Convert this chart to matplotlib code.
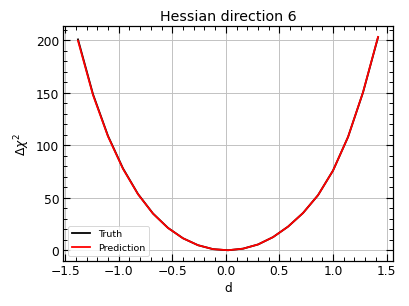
import matplotlib
matplotlib.use("Agg")
import matplotlib.pyplot as plt
from matplotlib.ticker import MultipleLocator

# step along hessian direction
d = [-1.38, -1.24, -1.10, -0.96, -0.82, -0.68, -0.54, -0.40, -0.26, -0.12, 0.02,
     0.16, 0.30, 0.44, 0.58, 0.72, 0.86, 1.00, 1.14, 1.28, 1.42]
chi2_truth = [201.0, 148.8, 109.0, 78.0, 53.6, 35.0, 21.3, 11.4, 4.8, 1.05, 0.0,
              1.5, 5.5, 12.5, 22.5, 35.5, 52.5, 76.0, 108.0, 150.5, 203.0]
chi2_pred = [199.8, 148.0, 108.5, 77.6, 53.4, 34.9, 21.2, 11.4, 4.8, 1.05, 0.0,
             1.5, 5.5, 12.5, 22.5, 35.5, 52.5, 76.0, 108.0, 150.8, 203.4]

fig = plt.figure(figsize=(6, 4.5), dpi=409 / 6)
ax = fig.add_subplot(111)
fig.subplots_adjust(left=0.154, right=0.961, top=0.912, bottom=0.147)

ax.plot(d, chi2_truth, color='black', lw=1.9, label='Truth')
ax.plot(d, chi2_pred, color='red', lw=1.9, label='Prediction')

ax.set_title('Hessian direction 6', fontsize=15)
ax.set_xlabel('d', fontsize=13)
ax.set_ylabel(r'$\Delta\chi^2$', fontsize=13)

ax.xaxis.set_major_locator(MultipleLocator(0.5))
ax.xaxis.set_minor_locator(MultipleLocator(0.1))
ax.yaxis.set_major_locator(MultipleLocator(50))
ax.yaxis.set_minor_locator(MultipleLocator(10))
ax.tick_params(which='both', direction='in', top=True, right=True, labelsize=13)
ax.tick_params(which='major', length=7, width=1.2, pad=4)
ax.tick_params(which='minor', length=4, width=1)
for s in ax.spines.values():
    s.set_linewidth(1.3)
ax.grid(True, which='major', color='#c0c0c0', lw=1)

ax.legend(loc='lower left', fontsize=10)

plt.savefig('out.png')
